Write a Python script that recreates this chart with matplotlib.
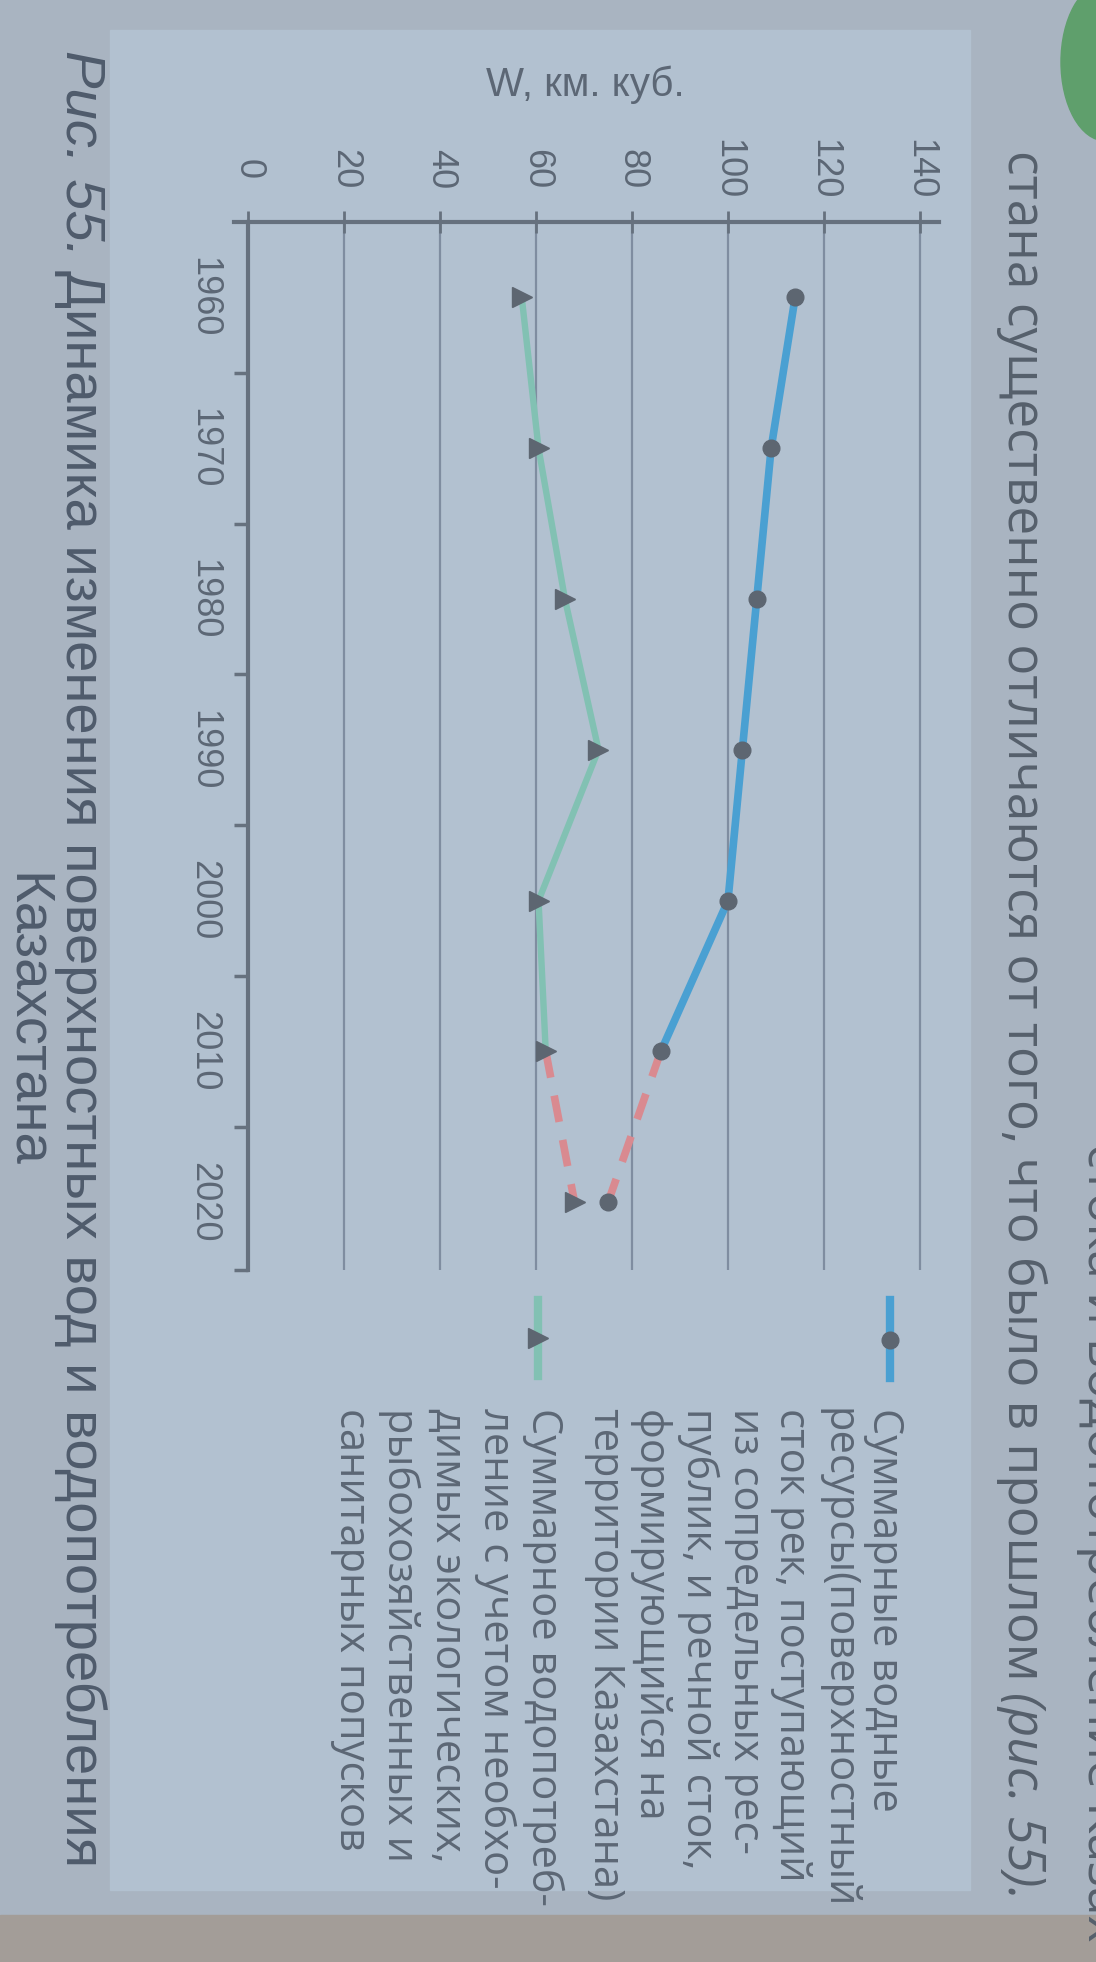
import matplotlib
matplotlib.use("Agg")
import matplotlib.pyplot as plt
from matplotlib import font_manager
from matplotlib.lines import Line2D
from matplotlib.patches import Rectangle, Circle

# данные
years = [1960, 1970, 1980, 1990, 2000, 2010, 2020]
resources = [114, 109, 106, 103, 100, 86, 75]      # суммарные водные ресурсы
consumption = [57, 60.5, 66, 73, 60.5, 62, 68]     # суммарное водопотребление
w_ticks = [0, 20, 40, 60, 80, 100, 120, 140]
year_bounds = [1965, 1975, 1985, 1995, 2005, 2015, 2024.5]

legend_resources = ["Суммарные водные", "ресурсы(поверхностный", "сток рек, поступающий",
                    "из сопредельных рес-", "публик, и речной сток,", "формирующийся на",
                    "территории Казахстана)"]
legend_consumption = ["Суммарное водопотреб-", "ление с учетом необхо-", "димых экологических,",
                      "рыбохозяйственных и", "санитарных попусков"]
axis_title = "W, км. куб."
caption_italic = "Рис. 55."
caption_rest = "Динамика изменения поверхностных вод и водопотребления"
caption_line2 = "Казахстана"
page_line = "стана существенно отличаются от того, что было в прошлом"
page_ref = "(рис. 55)."
page_prev = "стока и водопотребление Казах-"

W, H = 1096, 1962
def fx(px): return px / W
def fy(py): return 1 - py / H

bg = '#a9b4c1'
panel = '#b2c1d0'
txt = '#5c6775'
axis_c = '#66717e'
grid_c = '#7f8da0'
blue = '#4aa0d2'
green = '#82c1b3'
red = '#d98a90'
mk = '#5d6671'

names = {f.name for f in font_manager.fontManager.ttflist}
cap_font = 'Liberation Sans Narrow' if 'Liberation Sans Narrow' in names else 'Liberation Sans'
cap_size = 49 if cap_font.endswith('Narrow') else 40.5

fig = plt.figure(figsize=(W / 100, H / 100), dpi=100, facecolor=bg)
fig.add_artist(Rectangle((fx(110), fy(1890)), fx(970) - fx(110), fy(30) - fy(1890),
                         transform=fig.transFigure, color=panel, zorder=0))
fig.add_artist(Rectangle((0, 0), 1, fy(1915), transform=fig.transFigure,
                         color='#a39d98', zorder=0))
fig.add_artist(Circle((fx(1105), fy(62)), 44 / W, transform=fig.transFigure,
                      color='#5f9f6c', zorder=1))

ax = fig.add_axes([fx(234), fy(1270), fx(939) - fx(234), fy(222) - fy(1270)])
ax.set_facecolor('none')
ax.set_xlim(-3, 144)
ax.set_ylim(2024.5, 1955)

for s in ['right', 'bottom']:
    ax.spines[s].set_visible(False)
ax.spines['top'].set_color(axis_c)
ax.spines['top'].set_linewidth(3)
ax.spines['left'].set_position(('data', 0))
ax.spines['left'].set_color(axis_c)
ax.spines['left'].set_linewidth(3)

ax.set_xticks(w_ticks)
ax.set_xticklabels([str(v) for v in w_ticks])
ax.tick_params(axis='x', top=True, bottom=False, labeltop=True, labelbottom=False,
               direction='inout', length=16, width=2, color=axis_c, pad=30,
               labelsize=26, labelcolor=txt, labelrotation=270)
for lab in ax.get_xticklabels():
    lab.set_va('center')
    lab.set_family('Liberation Sans')

ax.set_yticks(year_bounds)
ax.set_yticklabels([])
ax.set_yticks(years, minor=True)
ax.set_yticklabels([str(y) for y in years], minor=True)
ax.tick_params(axis='y', which='major', direction='out', length=10, width=2.5, color=axis_c)
ax.tick_params(axis='y', which='minor', length=0, pad=32, labelsize=26,
               labelcolor=txt, labelrotation=270)
for lab in ax.get_yticklabels(minor=True):
    lab.set_ha('center')
    lab.set_va('center')
    lab.set_family('Liberation Sans')

ax.grid(True, axis='x', color=grid_c, lw=1.6)
ax.grid(False, axis='y')

# линии: до 2010 сплошные, 2010-2020 красный пунктир
ax.plot(resources[:6], years[:6], color=blue, lw=5.5, solid_capstyle='round', zorder=3)
ax.plot(consumption[:6], years[:6], color=green, lw=4.6, solid_capstyle='round', zorder=3)
ax.plot(resources[5:], years[5:], color=red, lw=5.5, ls=(0, (3.5, 2.4)), zorder=3)
ax.plot(consumption[5:], years[5:], color=red, lw=5.5, ls=(0, (3.5, 2.4)), zorder=3)
ax.plot(resources, years, ls='none', marker='o', ms=12, color=mk, zorder=4)
ax.plot(consumption, years, ls='none', marker='>', ms=15, color=mk, zorder=4)

fig.text(fx(585), fy(85), axis_title, ha='center', va='center', fontsize=29,
         color=txt, family='Liberation Sans')

# легенда (повернута вместе со страницей)
fig.add_artist(Line2D([fx(890), fx(890)], [fy(1300), fy(1378)], color=blue, lw=6))
fig.add_artist(Line2D([fx(890)], [fy(1340)], marker='o', ms=12, color=mk))
fig.add_artist(Line2D([fx(538), fx(538)], [fy(1300), fy(1376)], color=green, lw=6))
fig.add_artist(Line2D([fx(538)], [fy(1338)], marker='>', ms=15, color=mk))
for i, line in enumerate(legend_resources):
    fig.text(fx(884 - 46.5 * i), fy(1408), line, rotation=270, ha='center', va='top',
             fontsize=30, color=txt, family='Open Sans')
for i, line in enumerate(legend_consumption):
    fig.text(fx(543 - 48 * i), fy(1408), line, rotation=270, ha='center', va='top',
             fontsize=30, color=txt, family='Open Sans')

r = fig.canvas.get_renderer()

# подпись к рисунку
t = fig.text(fx(80), fy(50), caption_italic, rotation=270, ha='center', va='top',
             fontsize=cap_size, style='italic', color='#4f5b6c', family=cap_font)
y_next = 50 + t.get_window_extent(renderer=r).height + 14
fig.text(fx(80), fy(y_next), caption_rest, rotation=270, ha='center', va='top',
         fontsize=cap_size, color='#4f5b6c', family=cap_font)
fig.text(fx(26), fy(1020), caption_line2, rotation=270, ha='center', va='center',
         fontsize=cap_size, color='#4f5b6c', family=cap_font)

# текст страницы справа
t = fig.text(fx(1022), fy(150), page_line, rotation=270, ha='center', va='top',
             fontsize=37, color='#56606c', family='Open Sans')
y_next = 150 + t.get_window_extent(renderer=r).height + 12
fig.text(fx(1022), fy(y_next), page_ref, rotation=270, ha='center', va='top',
         fontsize=37, style='italic', color='#56606c', family='Open Sans')
fig.text(fx(1102), fy(1958), page_prev, rotation=270, ha='center', va='bottom',
         fontsize=37, color='#56606c', family='Open Sans')

fig.savefig('out.png', dpi=100, facecolor=bg)
